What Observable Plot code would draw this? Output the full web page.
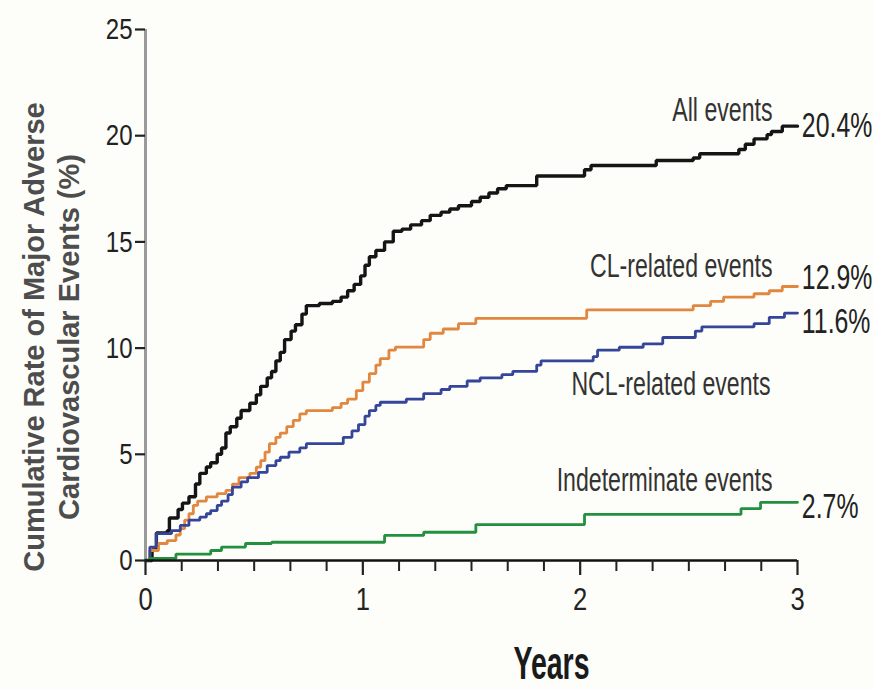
<!DOCTYPE html>
<html><head><meta charset="utf-8">
<script src="https://cdn.jsdelivr.net/npm/d3@7"></script>
<script src="https://cdn.jsdelivr.net/npm/@observablehq/plot@0.6"></script>
<style>body{margin:0;background:#fdfdf9;}</style>
</head><body><div id="chart"></div>
<script>
// Kaplan–Meier style step data: [years, cumulative %]
const allEvents = [[0,0],[0.03,0.5],[0.05,1.3],[0.1,1.4],[0.11,2.0],[0.15,2.4],[0.17,2.7],[0.2,3.0],[0.23,3.6],[0.25,4.1],[0.28,4.4],[0.3,4.6],[0.33,5.0],[0.35,5.3],[0.37,6.0],[0.39,6.3],[0.42,6.7],[0.44,7.06],[0.48,7.4],[0.51,7.8],[0.53,8.2],[0.56,8.6],[0.58,8.9],[0.6,9.4],[0.62,9.8],[0.64,10.4],[0.67,10.8],[0.69,11.1],[0.72,11.6],[0.74,12.0],[0.8,12.1],[0.86,12.2],[0.9,12.4],[0.93,12.7],[0.96,13.0],[0.99,13.4],[1.01,13.9],[1.03,14.3],[1.06,14.6],[1.1,15.0],[1.14,15.5],[1.18,15.6],[1.22,15.8],[1.27,16.0],[1.31,16.25],[1.36,16.4],[1.4,16.55],[1.44,16.7],[1.5,16.9],[1.54,17.1],[1.58,17.3],[1.62,17.5],[1.66,17.65],[1.8,18.1],[2.02,18.4],[2.05,18.6],[2.35,18.83],[2.52,18.95],[2.55,19.15],[2.73,19.35],[2.76,19.6],[2.8,19.85],[2.86,20.05],[2.88,20.2],[2.93,20.45],[3.0,20.45]];
const clEvents = [[0,0],[0.02,0.47],[0.06,0.8],[0.1,0.94],[0.14,1.2],[0.16,1.5],[0.18,1.9],[0.2,2.2],[0.22,2.6],[0.24,2.8],[0.28,3.0],[0.33,3.15],[0.37,3.3],[0.4,3.6],[0.43,3.9],[0.48,4.1],[0.51,4.4],[0.53,4.7],[0.55,5.1],[0.57,5.5],[0.6,5.8],[0.62,6.0],[0.65,6.3],[0.68,6.6],[0.71,6.9],[0.74,7.06],[0.86,7.2],[0.9,7.4],[0.93,7.6],[0.97,8.0],[1.0,8.4],[1.03,8.8],[1.06,9.2],[1.08,9.5],[1.12,9.9],[1.15,10.05],[1.28,10.4],[1.31,10.7],[1.37,10.9],[1.44,11.15],[1.52,11.4],[2.03,11.8],[2.52,12.0],[2.6,12.2],[2.66,12.4],[2.8,12.56],[2.87,12.7],[2.93,12.9],[3.0,12.9]];
const nclEvents = [[0,0],[0.02,0.63],[0.05,1.27],[0.12,1.41],[0.16,1.65],[0.2,1.9],[0.25,2.04],[0.28,2.2],[0.3,2.35],[0.33,2.6],[0.35,2.8],[0.38,3.1],[0.4,3.45],[0.44,3.7],[0.47,3.9],[0.52,4.15],[0.56,4.47],[0.6,4.7],[0.62,4.86],[0.66,5.1],[0.71,5.3],[0.74,5.5],[0.91,5.8],[0.95,6.1],[0.98,6.4],[1.01,6.8],[1.03,7.06],[1.06,7.3],[1.08,7.45],[1.2,7.6],[1.28,7.86],[1.36,8.05],[1.4,8.2],[1.48,8.45],[1.54,8.6],[1.64,8.75],[1.69,8.9],[1.8,9.2],[1.82,9.4],[2.06,9.6],[2.08,9.9],[2.18,10.04],[2.29,10.2],[2.38,10.5],[2.53,10.8],[2.56,11.0],[2.8,11.15],[2.87,11.45],[2.94,11.65],[3.0,11.65]];
const indetEvents = [[0,0],[0.02,0.1],[0.14,0.3],[0.3,0.47],[0.35,0.63],[0.46,0.8],[0.58,0.86],[1.1,1.18],[1.28,1.33],[1.52,1.69],[2.02,2.17],[2.74,2.44],[2.83,2.74],[3.0,2.74]];

const seriesNames = ["All events", "CL-related events", "NCL-related events", "Indeterminate events"];
const finalLabels = ["20.4%", "12.9%", "11.6%", "2.7%"];
const xMajorTicks = [0, 1, 2, 3];
const yTicks = [0, 5, 10, 15, 20, 25];
const xMinorTicks = [1,2,3,4,5,7,8,9,10,11,13,14,15,16,17].map(k => k / 6);

const seriesData = [allEvents, clEvents, nclEvents, indetEvents];
const colors = ["#151515", "#e2873f", "#34459a", "#22903f"];
const widths = [3.4, 2.8, 2.8, 2.8];

// annotation anchors (data coordinates)
const nameAnchors = [[2.885, 20.67], [2.885, 13.34], [2.876, 7.77], [2.885, 3.25]];
const pctAnchors = [[3.02, 19.93], [3.02, 12.8], [3.02, 10.69], [3.02, 1.98]];

const nameRows = seriesNames.map((s, i) => ({text: s, t: nameAnchors[i][0], v: nameAnchors[i][1]}));
const pctRows = finalLabels.map((s, i) => ({text: s, t: pctAnchors[i][0], v: pctAnchors[i][1]}));

const sans = "'Liberation Sans', Arial, sans-serif";

const marks = [];
marks.push(Plot.ruleX([0], {y1: 0, y2: 25, stroke: "#9a9a9a", strokeWidth: 3}));
seriesData.forEach((d, i) => {
  marks.push(Plot.line(d, {x: d => d[0], y: d => d[1], curve: "step-after", stroke: colors[i], strokeWidth: widths[i], strokeLinejoin: "miter"}));
});
marks.push(Plot.ruleY([0], {x1: 0, x2: 3, stroke: "#111", strokeWidth: 2.5}));
marks.push(Plot.axisX(xMinorTicks, {tickSize: 11, tickFormat: () => "", label: null, stroke: "#222", strokeWidth: 2}));
marks.push(Plot.axisX(xMajorTicks, {tickSize: 15, tickPadding: 12, label: null, stroke: "#222", strokeWidth: 2.2, fontSize: 32, fill: "#222", fontFamily: sans, tickFormat: d => String(d)}));
marks.push(Plot.axisY(yTicks, {tickSize: 10, tickPadding: 3, label: null, stroke: "#222", strokeWidth: 2.2, fontSize: 30, fill: "#222", fontFamily: sans, tickFormat: d => String(d)}));
marks.push(Plot.text(nameRows, {x: "t", y: "v", text: "text", textAnchor: "end", lineAnchor: "bottom", fontSize: 34, fill: "#333", fontFamily: sans}));
marks.push(Plot.text(pctRows, {x: "t", y: "v", text: "text", textAnchor: "start", lineAnchor: "bottom", fontSize: 35, fill: "#222", fontFamily: sans}));
marks.push(Plot.text(["Cumulative Rate of Major Adverse\nCardiovascular Events (%)"], {frameAnchor: "left", textAnchor: "middle", lineAnchor: "middle", dx: -95, dy: 42, rotate: -90, fontSize: 29, fontWeight: "bold", fill: "#4d4d4d", lineHeight: 1.2, fontFamily: sans}));
marks.push(Plot.text(["Years"], {frameAnchor: "bottom", textAnchor: "middle", dx: 80, dy: 104, lineAnchor: "middle", fontSize: 46, fontWeight: "bold", fill: "#1a1a1a", fontFamily: sans}));

const chart = Plot.plot({
  width: 873, height: 689,
  marginLeft: 145, marginRight: 76, marginTop: 29, marginBottom: 129,
  x: {domain: [0, 3], axis: null},
  y: {domain: [0, 25], axis: null},
  style: {background: "#fdfdf9", overflow: "visible"},
  marks
});

// horizontally condense text to match the narrow typeface of the original
function condenseText(t, s) {
  let tr = t.getAttribute("transform");
  if (!tr) {
    const x = t.getAttribute("x") || 0, y = t.getAttribute("y") || 0;
    t.removeAttribute("x"); t.removeAttribute("y");
    tr = `translate(${x},${y})`;
  }
  t.setAttribute("transform", tr + ` scale(${s},1)`);
}
const tickStrings = new Set([...xMajorTicks, ...yTicks].map(String));
chart.querySelectorAll("text").forEach(t => {
  const s = t.textContent;
  if (seriesNames.includes(s)) condenseText(t, 0.68);
  else if (finalLabels.includes(s)) condenseText(t, 0.71);
  else if (s === "Years") condenseText(t, 0.62);
  else if (tickStrings.has(s)) condenseText(t, 0.8);
});

document.getElementById("chart").appendChild(chart);
</script>
</body></html>
